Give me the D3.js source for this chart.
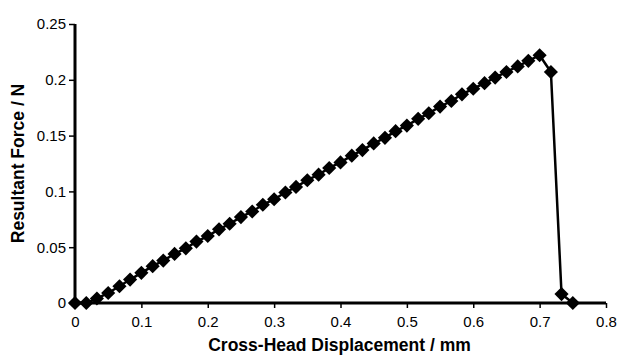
<!DOCTYPE html>
<html>
<head>
<meta charset="utf-8">
<script src="https://cdn.jsdelivr.net/npm/d3@7/dist/d3.min.js"></script>
<style>
html,body{margin:0;padding:0;background:#fff;}
svg{display:block;}
text{font-family:"Liberation Sans",Arial,sans-serif;fill:#000;}
</style>
</head>
<body>
<svg id="chart" width="617" height="356"></svg>
<script>
const displacement = [0, 0.017, 0.033, 0.05, 0.067, 0.083, 0.1, 0.117, 0.133, 0.15, 0.167, 0.183, 0.2, 0.217, 0.233, 0.25, 0.267, 0.283, 0.3, 0.317, 0.333, 0.35, 0.367, 0.383, 0.4, 0.417, 0.433, 0.45, 0.467, 0.483, 0.5, 0.517, 0.533, 0.55, 0.567, 0.583, 0.6, 0.617, 0.633, 0.65, 0.667, 0.683, 0.7, 0.717, 0.733, 0.75];
const force = [0, 0, 0.004, 0.009, 0.015, 0.021, 0.027, 0.033, 0.038, 0.044, 0.049, 0.055, 0.060, 0.066, 0.071, 0.077, 0.082, 0.088, 0.093, 0.099, 0.104, 0.110, 0.115, 0.121, 0.126, 0.132, 0.137, 0.143, 0.148, 0.154, 0.159, 0.165, 0.170, 0.176, 0.181, 0.187, 0.192, 0.197, 0.202, 0.207, 0.212, 0.217, 0.222, 0.207, 0.008, 0];
const xTicks = [0, 0.1, 0.2, 0.3, 0.4, 0.5, 0.6, 0.7, 0.8];
const yTicks = [0, 0.05, 0.1, 0.15, 0.2, 0.25];
const xTitle = "Cross-Head Displacement / mm";
const yTitle = "Resultant Force / N";

(function () {
const data = displacement.map((d, i) => ({x: d, y: force[i]}));
const svg = d3.select("#chart");
const mLeft = 75, mRight = 606, mTop = 24, mBottom = 303;
const x = d3.scaleLinear().domain([0, 0.8]).range([mLeft, mRight]);
const y = d3.scaleLinear().domain([0, 0.25]).range([mBottom, mTop]);

const fmt = d => d === 0 ? "0" : String(d);

const xAxis = svg.append("g").attr("transform", `translate(0,${mBottom})`)
  .call(d3.axisBottom(x).tickValues(xTicks).tickFormat(fmt).tickSize(5).tickPadding(8));
const yAxis = svg.append("g").attr("transform", `translate(${mLeft},0)`)
  .call(d3.axisLeft(y).tickValues(yTicks).tickFormat(fmt).tickSize(6).tickPadding(3));
[xAxis, yAxis].forEach(g => {
  g.select(".domain").attr("stroke", "#000").attr("stroke-width", 3);
  g.selectAll(".tick line").attr("stroke", "#000").attr("stroke-width", 1.5);
  g.selectAll(".tick text").attr("font-size", 15).attr("font-family", "Liberation Sans, Arial, sans-serif").attr("fill", "#000");
});
xAxis.select(".domain").attr("d", `M${mLeft},0H${mRight}`);
yAxis.select(".domain").attr("d", `M0,${mTop}V${mBottom}`);

const line = d3.line().x(d => x(d.x)).y(d => y(d.y));
svg.append("path").datum(data).attr("d", line)
  .attr("fill", "none").attr("stroke", "#000").attr("stroke-width", 2.5).attr("stroke-linejoin", "round");

const sym = d3.symbol().type(d3.symbolSquare).size(100);
svg.append("g").selectAll("path").data(data).join("path")
  .attr("d", sym)
  .attr("transform", d => `translate(${x(d.x)},${y(d.y)}) rotate(45)`)
  .attr("fill", "#000");

svg.append("text").attr("x", (mLeft + mRight) / 2 - 1).attr("y", 351)
  .attr("text-anchor", "middle").attr("font-size", 17.5).attr("font-weight", "bold").text(xTitle);
svg.append("text").attr("transform", `translate(24,${(mTop + mBottom) / 2}) rotate(-90)`)
  .attr("text-anchor", "middle").attr("font-size", 17.5).attr("font-weight", "bold").text(yTitle);
})();
</script>
</body>
</html>
